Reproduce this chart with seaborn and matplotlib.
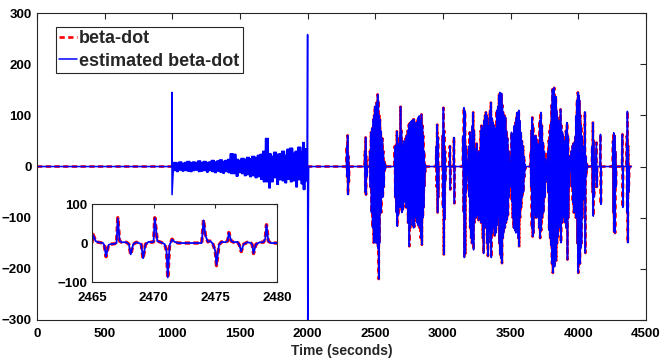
import numpy as np
import pandas as pd
import matplotlib
matplotlib.use("Agg")
import matplotlib.pyplot as plt
import seaborn as sns

# ---------------- data ----------------
# blue-only transient / noisy region (time, upper, lower envelope)
noise_t = [0, 997, 1010, 1030, 1050, 1070, 1090, 1110, 1130, 1150, 1170, 1190, 1210,
           1230, 1250, 1270, 1290, 1310, 1330, 1350, 1370, 1390, 1410, 1430, 1450,
           1470, 1490, 1510, 1530, 1550, 1570, 1590, 1610, 1630, 1650, 1670, 1690,
           1710, 1730, 1750, 1770, 1790, 1810, 1830, 1850, 1870, 1890, 1910, 1930,
           1950, 1965, 1980, 1992, 2000]
noise_hi = [0, 145, 8, 7, 9, 6, 8, 10, 7, 9, 8, 11, 7, 10, 8, 9, 12, 9, 11, 13, 10,
            12, 14, 25, 24, 14, 12, 16, 14, 18, 15, 20, 17, 22, 24, 30, 55, 25, 20,
            28, 24, 25, 30, 22, 34, 36, 26, 30, 38, 28, 47, 35, 30, 258]
noise_lo = [0, -55, -8, -10, -7, -9, -8, -9, -10, -8, -7, -10, -9, -8, -11, -8, -10,
            -12, -9, -11, -13, -10, -12, -14, -14, -19, -12, -14, -18, -16, -20, -18,
            -22, -20, -25, -30, -30, -42, -30, -22, -35, -26, -28, -32, -25, -30, -28,
            -40, -26, -34, -45, -30, -28, -300]

# bursts common to beta-dot and its estimate (time, upper, lower envelope)
burst_t = [2290, 2296, 2302, 2424, 2429, 2434,
           2461, 2469, 2478, 2486, 2492, 2498, 2504, 2510, 2518, 2523, 2529, 2535, 2541,
           2547, 2553, 2560, 2566, 2572,
           2645, 2653, 2660, 2668, 2675, 2681, 2687, 2694, 2702, 2710, 2719, 2725, 2731,
           2740, 2749, 2756, 2764, 2772, 2781, 2786, 2795, 2805, 2815, 2825, 2834, 2842,
           2849, 2855, 2861, 2867,
           2952, 2958, 2964, 2998, 3004, 3010, 3016, 3052, 3082, 3150, 3156, 3163, 3169,
           3192, 3199, 3206, 3212, 3218, 3224, 3230, 3241, 3250, 3261, 3267, 3273, 3280,
           3286, 3292, 3298, 3306, 3312, 3318, 3324, 3330, 3336, 3342, 3348, 3355, 3363,
           3372, 3380, 3389, 3398, 3409, 3415, 3421, 3428, 3434, 3440, 3446, 3455, 3463,
           3470, 3478, 3486, 3495,
           3503, 3507, 3513, 3520, 3528, 3537, 3543, 3549, 3555, 3561, 3568, 3576, 3584,
           3593, 3600, 3606,
           3650, 3655, 3661, 3667, 3674, 3680, 3686, 3692, 3700, 3709, 3716, 3724, 3732,
           3741, 3750, 3758, 3765,
           3776, 3783, 3790, 3798, 3804, 3810, 3816, 3823, 3829, 3835, 3841, 3847, 3855,
           3865, 3870, 3876, 3884, 3890, 3897, 3903, 3910, 3918, 3925, 3932, 3939,
           3950, 3958, 3965, 3973, 3980, 3986, 3992, 3998, 4004, 4010, 4016, 4022, 4028,
           4035, 4042, 4050, 4056, 4064,
           4104, 4109, 4114, 4135, 4165, 4258, 4263, 4270, 4276, 4327, 4360, 4364, 4370]
burst_hi = [40, 61, 20, 30, 57, 20,
            30, 67, 75, 92, 100, 118, 110, 125, 141, 130, 100, 92, 70, 51, 55, 30, 10, 5,
            40, 40, 69, 45, 40, 60, 117, 70, 40, 50, 45, 55, 60, 70, 82, 85, 88, 90, 92,
            92, 85, 86, 95, 99, 90, 102, 80, 60, 30, 5,
            40, 82, 57, 60, 115, 70, 30, 40, 57, 60, 115, 108, 40,
            40, 67, 50, 40, 80, 106, 70, 35, 45, 20, 30, 25, 70, 80, 75, 70, 90, 100,
            106, 100, 95, 80, 67, 110, 125, 95, 86, 80, 75, 110, 118, 140, 145, 140,
            143, 120, 106, 100, 96, 70, 55, 30, 8,
            20, 67, 50, 64, 80, 86, 95, 106, 100, 110, 90, 67, 50, 40, 20, 5,
            30, 70, 96, 80, 60, 51, 60, 53, 45, 40, 90, 106, 80, 47, 30, 15, 5,
            30, 51, 70, 86, 120, 151, 140, 154, 130, 137, 110, 96, 90, 75, 112, 80, 67,
            60, 51, 40, 70, 86, 60, 20, 5,
            30, 40, 45, 47, 60, 100, 130, 145, 140, 130, 100, 80, 60, 40, 30, 107, 20, 5,
            40, 86, 50, 47, 63, 50, 66, 60, 30, 63, 60, 108, 40]
burst_lo = [-20, -55, -30, -50, -55, -20,
            -40, -90, -120, -149, -145, -130, -150, -140, -160, -220, -150, -78, -90,
            -55, -60, -40, -8, -5,
            -60, -90, -117, -95, -70, -80, -75, -90, -85, -70, -60, -80, -80, -110, -156,
            -120, -100, -115, -120, -118, -100, -110, -115, -120, -140, -153, -100, -80,
            -40, -10,
            -40, -90, -60, -80, -172, -103, -30, -45, -72, -90, -178, -170, -50,
            -60, -120, -140, -150, -140, -163, -110, -100, -95, -105, -90, -100, -110,
            -90, -140, -170, -120, -110, -84, -150, -175, -130, -110, -150, -178, -130,
            -120, -135, -130, -115, -100, -150, -172, -180, -189, -140, -130, -120, -110,
            -105, -95, -60, -40,
            -30, -69, -100, -120, -125, -130, -120, -128, -140, -156, -100, -80, -60, -50,
            -20, -5,
            -40, -120, -137, -130, -90, -95, -100, -78, -100, -120, -140, -125, -100, -90,
            -60, -30, -5,
            -50, -125, -140, -155, -190, -208, -180, -196, -170, -184, -150, -137, -120,
            -120, -149, -110, -100, -95, -109, -95, -120, -182, -100, -40, -10,
            -40, -70, -90, -84, -100, -88, -150, -208, -180, -190, -160, -150, -100, -65,
            -50, -169, -20, -5,
            -50, -97, -60, -40, -74, -90, -127, -130, -40, -80, -90, -149, -50]
t_end = 4394

# inset (2465-2480 s)
inset_t = [2465.0, 2465.1, 2465.3, 2465.5, 2465.9, 2466.0, 2466.15, 2466.35, 2466.5,
           2466.8, 2467.0, 2467.1, 2467.25, 2467.4, 2467.8, 2468.0, 2468.15, 2468.35,
           2468.6, 2468.8, 2469.0, 2469.15, 2469.35, 2469.6, 2469.9, 2470.0, 2470.1,
           2470.3, 2470.6, 2470.9, 2471.05, 2471.15, 2471.3, 2471.5, 2471.7, 2472.0,
           2473.9, 2474.05, 2474.2, 2474.4, 2474.6, 2474.8, 2475.0, 2475.1, 2475.3,
           2475.5, 2475.8, 2476.0, 2476.1, 2476.3, 2476.5, 2476.8, 2476.95, 2477.1,
           2477.3, 2477.6, 2477.9, 2478.0, 2478.1, 2478.3, 2478.6, 2478.9, 2479.05,
           2479.15, 2479.3, 2479.5, 2480.0]
inset_beta = [0, 22, 5, 2, 0, -5, -35, -5, -3, -2, 0, 65, 5, 2, 2, -3, -30, -3, 2, 0,
              -3, -40, -3, 3, 2, 3, 65, 5, 2, -3, -20, -90, -5, 10, 3, 0, 0, 60, 20, 3,
              5, -2, -20, -58, -5, 3, 2, 5, 27, 5, 2, 3, -5, -22, -3, 2, 0, -5, -27, -3,
              2, 2, 10, 47, 5, 0, 0]
inset_est = [0, 20, 5, 2, 0, -5, -34, -5, -3, -2, 0, 63, 6, 2, 2, -3, -29, -3, 2, 0,
             -3, -39, -3, 3, 2, 3, 64, 5, 2, -3, -20, -88, -5, 9, 3, 0, 0, 58, 20, 3,
             5, -2, -20, -56, -5, 3, 2, 5, 26, 5, 2, 3, -5, -21, -3, 2, 0, -5, -26, -3,
             2, 2, 10, 46, 5, 0, 0]


def zigzag(ts, hi, lo, gap=25, dt=3):
    xs, ys = [], []
    prev = None
    for t, h, l in zip(ts, hi, lo):
        if prev is not None and t - prev > gap:
            xs += [prev + 2 * dt, t - dt]
            ys += [0, 0]
        xs += [t, t + dt]
        ys += [h, l]
        prev = t
    return xs, ys


def dense(ts, hi, lo, step=4.5):
    """fill a noisy band: alternate between the two envelopes every `step` s"""
    xs, ys = [], []
    for i in range(len(ts)):
        t0 = ts[i]
        if i > 0 and t0 - ts[i - 1] > 30:
            xs.append(t0 - 1)
            ys.append(0)
        if i == len(ts) - 1 or ts[i + 1] - t0 > 30 or hi[i] > 100:
            xs += [t0, t0 + 1]
            ys += [hi[i], lo[i]]
            continue
        k = 0
        for tt in np.arange(t0, ts[i + 1], step):
            xs.append(tt)
            ys.append(hi[i] if k % 2 == 0 else lo[i])
            k += 1
    return xs, ys


bx, by = zigzag(burst_t, burst_hi, burst_lo)
nx, ny = dense(noise_t, noise_hi, noise_lo)

red_x = [0, bx[0] - 3] + bx + [bx[-1] + 6, t_end]
red_y = [0, 0] + by + [0, 0]
blue_x = nx + [2008, bx[0] - 3] + bx + [bx[-1] + 6, t_end]
blue_y = ny + [0, 0] + by + [0, 0]

main_red = pd.DataFrame({"t": red_x, "v": red_y})
main_blue = pd.DataFrame({"t": blue_x, "v": blue_y})
ins = pd.DataFrame({"t": inset_t, "beta": inset_beta, "est": inset_est})

# ---------------- plot ----------------
sns.set_theme(style="white")
plt.rcParams["font.family"] = ["Liberation Sans", "DejaVu Sans"]
plt.rcParams["font.weight"] = "bold"

fig = plt.figure(figsize=(6.61, 3.63), dpi=100)
ax = fig.add_axes([0.056, 0.1185, 0.921, 0.8455])

red = "#ff0000"
blue = "#0000ff"
dash = (0, (2.0, 1.3))

sns.lineplot(data=main_red, x="t", y="v", sort=False, estimator=None, ax=ax,
             color=red, lw=1.9, linestyle=dash, label="beta-dot")
sns.lineplot(data=main_blue, x="t", y="v", sort=False, estimator=None, ax=ax,
             color=blue, lw=1.1, label="estimated beta-dot")

ax.set_xlim(0, 4500)
ax.set_ylim(-300, 300)
ax.set_xticks(np.arange(0, 4501, 500))
ax.set_yticks(np.arange(-300, 301, 100))
ax.set_xlabel("Time (seconds)", fontsize=10, fontweight="bold", labelpad=3)
ax.set_ylabel("")
ax.tick_params(direction="in", length=4, width=0.8, top=True, right=True,
               labelsize=9.5, colors="#262626")
ax.tick_params(axis="x", pad=6)
ax.tick_params(axis="y", pad=4)
for lab in ax.get_xticklabels() + ax.get_yticklabels():
    lab.set_fontweight("bold")
    lab.set_color("black")
for s in ax.spines.values():
    s.set_color("#262626")
    s.set_linewidth(0.8)

leg = ax.legend(loc="upper left", bbox_to_anchor=(0.031, 0.955), borderaxespad=0,
                frameon=True, fancybox=False, edgecolor="#262626", framealpha=1,
                prop={"weight": "bold", "size": 13}, handlelength=0.95,
                handletextpad=0.12, labelspacing=0.28, borderpad=0.2)
leg.get_frame().set_linewidth(0.8)

# inset
axi = fig.add_axes([0.139, 0.223, 0.280, 0.215])
sns.lineplot(data=ins, x="t", y="beta", sort=False, estimator=None, ax=axi,
             color=red, lw=2.4, linestyle=(0, (1.6, 1.0)))
sns.lineplot(data=ins, x="t", y="est", sort=False, estimator=None, ax=axi,
             color=blue, lw=1.3)
axi.set_xlim(2465, 2480)
axi.set_ylim(-100, 100)
axi.set_xticks([2465, 2470, 2475, 2480])
axi.set_yticks([-100, 0, 100])
axi.set_xlabel("")
axi.set_ylabel("")
axi.tick_params(direction="in", length=3, width=0.8, top=True, right=True,
                labelsize=9.5, colors="#262626")
axi.tick_params(axis="x", pad=7)
axi.tick_params(axis="y", pad=3)
for lab in axi.get_xticklabels() + axi.get_yticklabels():
    lab.set_fontweight("bold")
    lab.set_color("black")
for s in axi.spines.values():
    s.set_color("#262626")
    s.set_linewidth(0.8)

fig.savefig("out.png", dpi=100)
